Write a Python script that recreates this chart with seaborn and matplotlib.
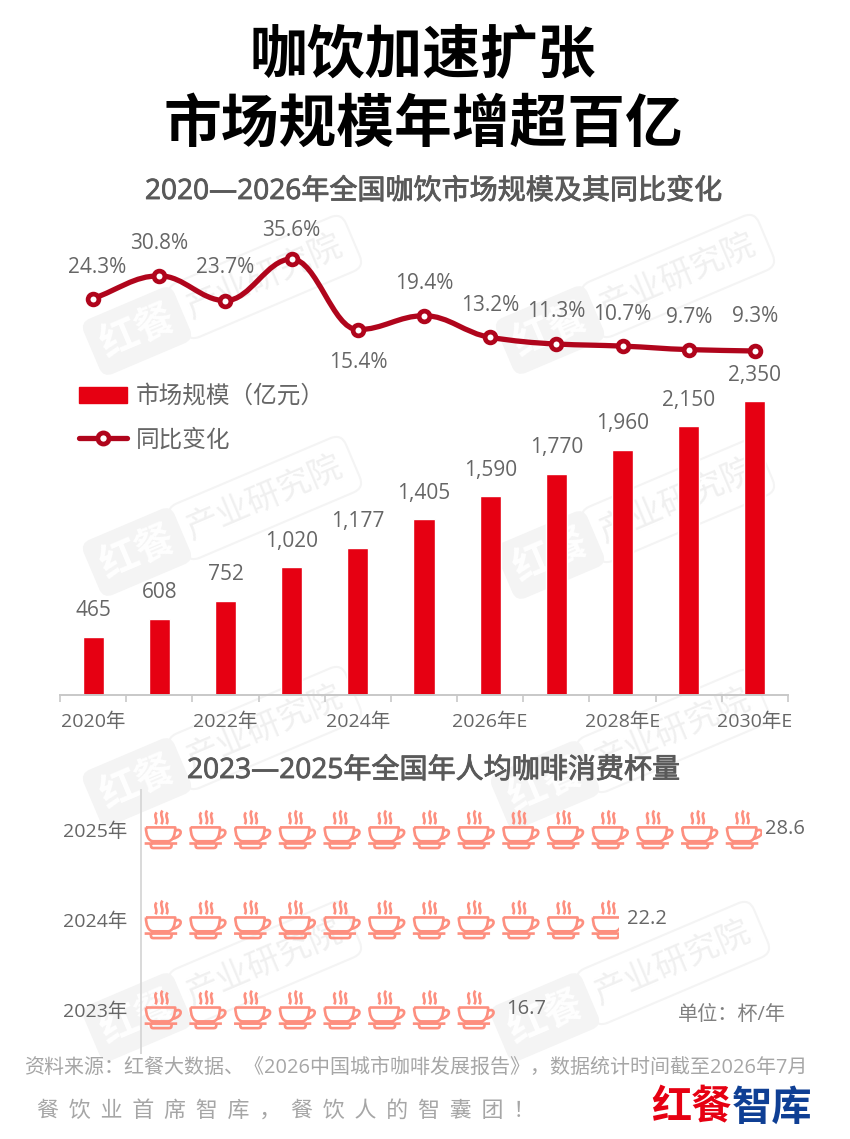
import matplotlib
matplotlib.use("Agg")
import matplotlib.pyplot as plt
import matplotlib.patheffects as pe
import seaborn as sns
import numpy as np
from matplotlib.path import Path
from matplotlib.patches import PathPatch, Patch, Rectangle
from matplotlib.lines import Line2D

years = ["2020年", "2021年", "2022年", "2023年", "2024年", "2025年", "2026年E", "2027年E", "2028年E", "2029年E", "2030年E"]
market_size = [465, 608, 752, 1020, 1177, 1405, 1590, 1770, 1960, 2150, 2350]
yoy_change = [24.3, 30.8, 23.7, 35.6, 15.4, 19.4, 13.2, 11.3, 10.7, 9.7, 9.3]
cup_years = ["2025年", "2024年", "2023年"]
cup_values = [28.6, 22.2, 16.7]
cups_per_icon = 2

RED = "#e60012"
DARKRED = "#b0051c"
GREY = "#666666"
CUP = "#fd8f7f"
W, H = 850, 1139
MIXED = ["Open Sans", "Noto Sans CJK SC", "DejaVu Sans"]

sns.set_theme(style="white")
plt.rcParams["font.family"] = ["Noto Sans CJK SC", "DejaVu Sans"]

fig = plt.figure(figsize=(W / 100, H / 100), dpi=100, facecolor="white")


def px_axes(left, top, right, bottom):
    ax = fig.add_axes([left / W, 1 - bottom / H, (right - left) / W, (bottom - top) / H])
    ax.patch.set_alpha(0)
    return ax


# background layer in pixel coords, for watermark and free text
bg = px_axes(0, 0, W, H)
bg.set_xlim(0, W)
bg.set_ylim(H, 0)
bg.axis("off")

for wx, wy in [(137, 331), (137, 552), (137, 782), (137, 1017), (550, 330), (550, 555), (545, 785), (545, 1017)]:
    bg.text(wx, wy, "红餐", fontsize=28, fontweight="bold", color="white", rotation=23,
            rotation_mode="anchor", ha="center", va="center",
            bbox=dict(boxstyle="round,pad=0.25", fc="#f4f4f4", ec="#f4f4f4"))
    bg.text(wx + 128, wy - 54, "产业研究院", fontsize=24, color="#f0f0f0", rotation=23,
            rotation_mode="anchor", ha="center", va="center",
            bbox=dict(boxstyle="round,pad=0.36", fc="none", ec="#f4f4f4", lw=1.5))

# titles
bg.text(423, 55, "咖饮加速扩张", fontsize=41.6, fontweight="bold", color="black", ha="center", va="center")
bg.text(423, 125, "市场规模年增超百亿", fontsize=41.6, fontweight="bold", color="black", ha="center", va="center")
# regular font with a thin stroke, the reference weight is between regular and bold
medium = [pe.withStroke(linewidth=0.6, foreground="#595959")]
bg.text(433, 192, "2020—2026年全国咖饮市场规模及其同比变化", fontsize=20.2, color="#595959", ha="center", va="center",
        family=MIXED, path_effects=medium)
bg.text(433, 771, "2023—2025年全国年人均咖啡消费杯量", fontsize=20.2, color="#595959", ha="center", va="center",
        family=MIXED, path_effects=medium)

# bars
ax = px_axes(60, 401, 788, 695)
sns.barplot(x=years, y=market_size, color=RED, saturation=1, width=0.32, ax=ax)
ax.set_xlim(-0.5, 10.5)
ax.set_ylim(0, 2350)
ax.set_yticks([])
ax.set_ylabel("")
sns.despine(ax=ax, left=True)
ax.spines["bottom"].set_color("#c8c8c8")
ax.spines["bottom"].set_linewidth(1.4)
ax.set_xticks(range(0, 11, 2))
ax.set_xticklabels(years[::2], fontsize=14, color=GREY, family=MIXED)
ax.set_xticks(np.arange(-0.5, 11), minor=True)
ax.tick_params(axis="x", which="major", length=0, pad=13)
ax.tick_params(axis="x", which="minor", length=5, width=1.2, color="#c8c8c8", bottom=True)
for i, v in enumerate(market_size):
    ax.annotate(f"{v:,}", (i, v), xytext=(0, 26), textcoords="offset pixels", ha="center", va="center",
                fontsize=15, color=GREY, family="Open Sans", annotation_clip=False)

# smooth yoy line, bezier through the yearly points
lax = px_axes(60, 259, 788, 351)
xs = np.arange(len(yoy_change), dtype=float)
ys = np.array(yoy_change)
d = np.diff(ys)
tan = np.zeros(len(ys))
for i in range(1, len(ys) - 1):
    if d[i - 1] * d[i] > 0:
        tan[i] = 2 * d[i - 1] * d[i] / (d[i - 1] + d[i])
tan[0] = d[0]
tan[-1] = d[-1]
verts = [(xs[0], ys[0])]
codes = [Path.MOVETO]
k = 0.38
for i in range(len(ys) - 1):
    verts += [(xs[i] + k, ys[i] + k * tan[i]), (xs[i + 1] - k, ys[i + 1] - k * tan[i + 1]), (xs[i + 1], ys[i + 1])]
    codes += [Path.CURVE4] * 3
lax.add_patch(PathPatch(Path(verts, codes), fc="none", ec=DARKRED, lw=3.8, capstyle="round", clip_on=False, zorder=2))
sns.scatterplot(x=xs, y=ys, ax=lax, s=60, color="white", edgecolor=DARKRED, linewidth=3.4, clip_on=False, zorder=3)
lax.set_xlim(-0.5, 10.5)
lax.set_ylim(9.3, 35.6)
lax.axis("off")
label_up = [31, 32, 33, 28, -33, 32, 32, 33, 32, 32, 34]
label_right = [4, 0, 0, 0, 0, 0, 0, 0, 0, 0, 0]
for i, v in enumerate(yoy_change):
    lax.annotate(f"{v}%", (i, v), xytext=(label_right[i], label_up[i]), textcoords="offset pixels", ha="center", va="center",
                 fontsize=15, color=GREY, family="Open Sans", annotation_clip=False)

handles = [Patch(fc=RED, ec=RED),
           Line2D([], [], color=DARKRED, lw=3.8, marker="o", ms=8, mfc="white", mec=DARKRED, mew=3.4)]
fig.legend(handles, ["市场规模（亿元）", "同比变化"], loc="upper left", bbox_to_anchor=(79 / W, 1 - 385 / H),
           frameon=False, fontsize=17, labelcolor=GREY, handlelength=2.05, handleheight=0.68,
           handletextpad=0.35, labelspacing=0.86, borderpad=0, borderaxespad=0)


# cup icon, drawn in a 117x118 box as it looks when zoomed in
def c(x, y):
    return ((x - 98.5) / 58.5, (119 - y) / 59)


M, L, C = Path.MOVETO, Path.LINETO, Path.CURVE4
cup_parts = [
    (M, 45, 112), (L, 135, 112), (C, 135, 135), (C, 128, 155), (C, 112, 155), (L, 68, 155), (C, 52, 155), (C, 45, 135), (C, 45, 112),
    (M, 135, 122), (C, 157, 112), (C, 160, 140), (C, 128, 147),
    (M, 41, 162), (L, 141, 162),
    (M, 60, 162), (C, 60, 176), (C, 62, 176), (C, 70, 176), (L, 112, 176), (C, 122, 176), (C, 124, 176), (C, 124, 162),
    (M, 78, 66), (C, 66, 78), (C, 84, 88), (C, 74, 102),
    (M, 96, 60), (C, 84, 74), (C, 104, 86), (C, 92, 102),
    (M, 112, 66), (C, 100, 78), (C, 118, 88), (C, 108, 102),
]
cup_icon = Path([c(p[1], p[2]) for p in cup_parts], [p[0] for p in cup_parts])

cax = px_axes(141, 790, 800, 1053)
label_dx = [-2, -6, 8]
row_clip = [762, 619.5, 497]
for row, v in enumerate(cup_values):
    n = int(v // cups_per_icon)
    cx = np.arange(n) * cups_per_icon + cups_per_icon / 2
    sns.scatterplot(x=cx, y=np.full(n, row), ax=cax, marker=cup_icon, s=830, facecolor="none",
                    edgecolor=CUP, linewidth=1.9, clip_on=False)
    # last cup is cut off at the value, like a pictorial bar
    cax.collections[-1].set_clip_on(True)
    cax.collections[-1].set_clip_path(Rectangle((141, 790), row_clip[row] - 141, 263, transform=bg.transData))
    cax.annotate(str(v), (n * cups_per_icon, row), xytext=(label_dx[row], 1), textcoords="offset pixels",
                 ha="left", va="center", fontsize=14.5, color=GREY, family="Open Sans", annotation_clip=False)
cax.set_xlim(0, 659 / 22.35)
cax.set_ylim(2.48, -0.44)
cax.set_xticks([])
cax.set_yticks(range(3))
cax.set_yticklabels(cup_years, fontsize=14, color=GREY, family=MIXED)
cax.tick_params(axis="y", length=0, pad=10)
sns.despine(ax=cax, bottom=True)
cax.spines["left"].set_color("#d9d9d9")
cax.spines["left"].set_linewidth(1.4)

# footer
bg.text(732, 1015, "单位：杯/年", fontsize=14.5, color="#808080", ha="center", va="center", family=MIXED)
bg.text(416, 1068, "资料来源：红餐大数据、《2026中国城市咖啡发展报告》，数据统计时间截至2026年7月", fontsize=14.4,
        color="#a6a6a6", ha="center", va="center", family=MIXED)
bg.text(37, 1112, "餐  饮  业  首  席  智  库  ，  餐  饮  人  的  智  囊  团  ！", fontsize=15.8, color="#a6a6a6", ha="left", va="center")
bg.text(732, 1108, "红餐", fontsize=29, fontweight="bold", color=RED, ha="right", va="center")
bg.text(732, 1108, "智库", fontsize=29, fontweight="bold", color="#0f3f94", ha="left", va="center")

fig.savefig("out.png", dpi=100)
